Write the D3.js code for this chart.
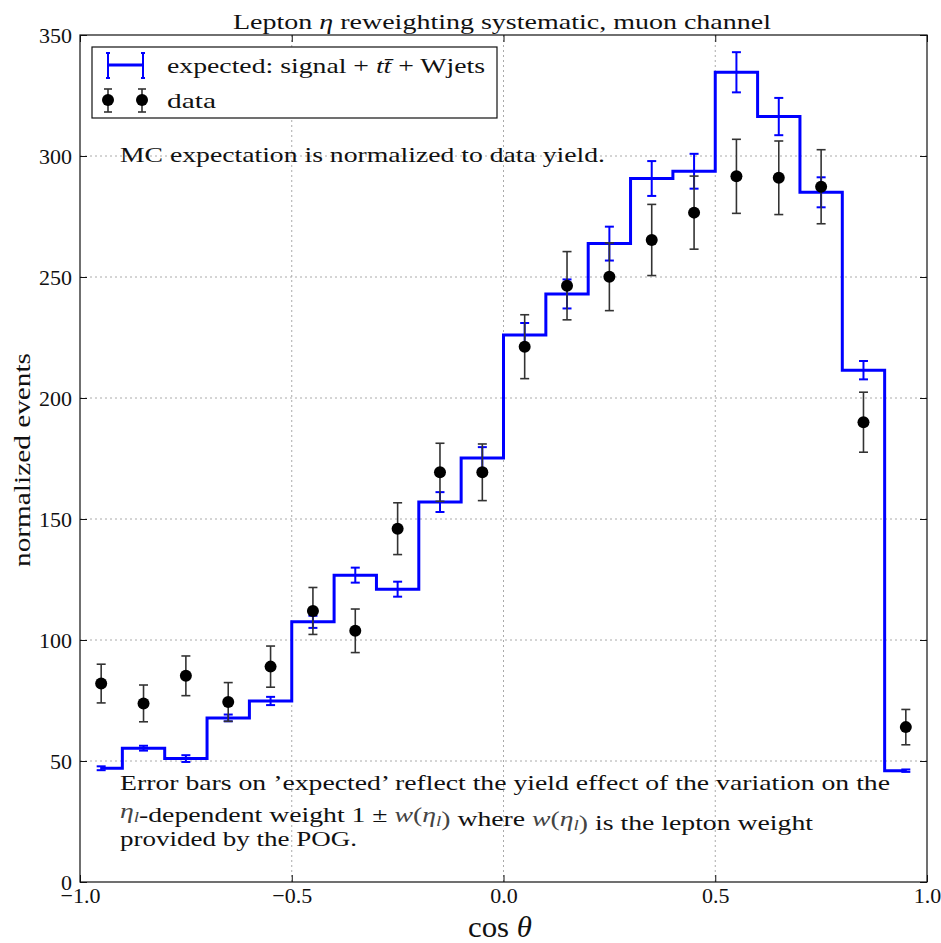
<!DOCTYPE html>
<html><head><meta charset="utf-8">
<script src="https://cdn.jsdelivr.net/npm/d3@7"></script>
<style>
body{margin:0;background:#fff}
text{font-family:"Liberation Serif","Times New Roman",serif;fill:#111}
</style>
</head><body>
<svg id="c" width="941" height="943"></svg>
<script>
// ---------- data ----------
const binCenters = [-0.95,-0.85,-0.75,-0.65,-0.55,-0.45,-0.35,-0.25,-0.15,-0.05,0.05,0.15,0.25,0.35,0.45,0.55,0.65,0.75,0.85,0.95];
const mcValues   = [47,55.3,51,67.8,74.8,107.5,126.8,121,157,175.2,226,243,263.8,290.7,293.7,334.6,316.3,285,211.5,46];
const mcErrors   = [0.8,1.0,1.4,1.4,1.7,2.5,3.1,3.1,4.1,4.5,5.0,6.0,7.0,7.2,7.2,8.3,7.7,6.2,3.8,0.5];
const dataValues = [82,73.8,85.2,74.4,89,112,103.8,146,169.3,169.3,221.2,246.4,250.1,265.3,276.6,291.6,291,287.3,190,64];
const dataErrors = [8,7.6,8.2,8,8.5,9.7,9,10.7,12,11.7,13.2,14.1,14,14.7,15.1,15.3,15.2,15.3,12.4,7.3];
const xTicks = [-1,-0.5,0,0.5,1];
const yTicks = [0,50,100,150,200,250,300,350];

// ---------- setup ----------
const svg = d3.select("#c");
svg.append("rect").attr("width",941).attr("height",943).attr("fill","#fff");
const L=80,R=927,T=35,B=882;
const x = d3.scaleLinear().domain([-1,1]).range([L,R]);
const y = d3.scaleLinear().domain([0,350]).range([B,T]);
const FS = 22;

// grid
const grid = svg.append("g").attr("stroke","#aaa").attr("stroke-width",1).attr("stroke-dasharray","2,3");
grid.selectAll(".gx").data(xTicks.slice(1,-1)).join("line")
  .attr("x1",d=>x(d)).attr("x2",d=>x(d)).attr("y1",T).attr("y2",B);
grid.selectAll(".gy").data(yTicks.slice(1,-1)).join("line")
  .attr("x1",L).attr("x2",R).attr("y1",d=>y(d)).attr("y2",d=>y(d));

// axes
const fmtX = d3.format(".1f");
function styleAxis(g, labels){
  g.select(".domain").remove();
  g.attr("font-family",null);
  g.selectAll(".tick line").attr("stroke","#111").attr("stroke-width",1);
  g.selectAll(".tick text").attr("font-size",FS).attr("font-family","Liberation Serif").attr("fill","#111");
  if(!labels) g.selectAll(".tick text").remove();
}
svg.append("g").attr("transform",`translate(0,${B})`)
  .call(d3.axisBottom(x).tickValues(xTicks).tickSize(-7).tickPadding(5).tickFormat(fmtX))
  .call(g=>styleAxis(g,true));
svg.append("g").attr("transform",`translate(0,${T})`)
  .call(d3.axisTop(x).tickValues(xTicks).tickSize(-7))
  .call(g=>styleAxis(g,false));
svg.append("g").attr("transform",`translate(${L},0)`)
  .call(d3.axisLeft(y).tickValues(yTicks).tickSize(-7).tickPadding(8).tickFormat(d3.format("d")))
  .call(g=>styleAxis(g,true));
svg.append("g").attr("transform",`translate(${R},0)`)
  .call(d3.axisRight(y).tickValues(yTicks).tickSize(-7))
  .call(g=>styleAxis(g,false));

// step line (expected)
const mcPts = binCenters.map((c,i)=>[c,mcValues[i]]);
svg.append("path").datum(mcPts)
  .attr("d", d3.line().x(d=>x(d[0])).y(d=>y(d[1])).curve(d3.curveStep))
  .attr("fill","none").attr("stroke","#0000ff").attr("stroke-width",3);

// expected error bars
const cap = 4.5;
const mcG = svg.append("g").attr("stroke","#0000ff").attr("stroke-width",2);
binCenters.forEach((c,i)=>{
  const cx=x(c), y1=y(mcValues[i]-mcErrors[i]), y2=y(mcValues[i]+mcErrors[i]);
  mcG.append("line").attr("x1",cx).attr("x2",cx).attr("y1",y1).attr("y2",y2);
  mcG.append("line").attr("x1",cx-cap).attr("x2",cx+cap).attr("y1",y1).attr("y2",y1);
  mcG.append("line").attr("x1",cx-cap).attr("x2",cx+cap).attr("y1",y2).attr("y2",y2);
});

// data error bars and points
const dG = svg.append("g").attr("stroke","#333").attr("stroke-width",1.6);
binCenters.forEach((c,i)=>{
  const cx=x(c), y1=y(dataValues[i]-dataErrors[i]), y2=y(dataValues[i]+dataErrors[i]);
  dG.append("line").attr("x1",cx).attr("x2",cx).attr("y1",y1).attr("y2",y2);
  dG.append("line").attr("x1",cx-cap).attr("x2",cx+cap).attr("y1",y1).attr("y2",y1);
  dG.append("line").attr("x1",cx-cap).attr("x2",cx+cap).attr("y1",y2).attr("y2",y2);
});
svg.append("g").selectAll("circle").data(binCenters).join("circle")
  .attr("cx",d=>x(d)).attr("cy",(d,i)=>y(dataValues[i])).attr("r",6).attr("fill","#000");

// frame
svg.append("rect").attr("x",L).attr("y",T).attr("width",R-L).attr("height",B-T)
  .attr("fill","none").attr("stroke","#111").attr("stroke-width",1.2);

// title
const title = svg.append("text").attr("x",233).attr("y",29).attr("font-size",FS)
  .attr("textLength",538).attr("lengthAdjust","spacingAndGlyphs");
title.append("tspan").text("Lepton ");
title.append("tspan").attr("font-style","italic").text("η");
title.append("tspan").text(" reweighting systematic, muon channel");

// legend
svg.append("rect").attr("x",92).attr("y",47).attr("width",405).attr("height",71)
  .attr("fill","#fff").attr("stroke","#111").attr("stroke-width",1.2);
const lg = svg.append("g");
lg.append("line").attr("x1",108).attr("x2",143).attr("y1",65).attr("y2",65).attr("stroke","#0000ff").attr("stroke-width",3);
[108,143].forEach(px=>{
  lg.append("line").attr("x1",px).attr("x2",px).attr("y1",53).attr("y2",78).attr("stroke","#0000ff").attr("stroke-width",2);
  lg.append("line").attr("x1",px-2).attr("x2",px+2).attr("y1",53).attr("y2",53).attr("stroke","#0000ff").attr("stroke-width",2);
  lg.append("line").attr("x1",px-2).attr("x2",px+2).attr("y1",78).attr("y2",78).attr("stroke","#0000ff").attr("stroke-width",2);
});
[108,142].forEach(px=>{
  lg.append("line").attr("x1",px).attr("x2",px).attr("y1",89).attr("y2",112).attr("stroke","#333").attr("stroke-width",1.6);
  lg.append("line").attr("x1",px-4).attr("x2",px+4).attr("y1",89).attr("y2",89).attr("stroke","#333").attr("stroke-width",1.6);
  lg.append("line").attr("x1",px-4).attr("x2",px+4).attr("y1",112).attr("y2",112).attr("stroke","#333").attr("stroke-width",1.6);
  lg.append("circle").attr("cx",px).attr("cy",100).attr("r",6).attr("fill","#000");
});
const t1 = lg.append("text").attr("x",167).attr("y",73).attr("font-size",FS)
  .attr("textLength",318).attr("lengthAdjust","spacingAndGlyphs");
t1.append("tspan").text("expected: signal + ");
t1.append("tspan").attr("font-style","italic").text("tt\u0304");
t1.append("tspan").text(" + Wjets");
lg.append("text").attr("x",167).attr("y",108).attr("font-size",FS)
  .attr("textLength",49).attr("lengthAdjust","spacingAndGlyphs").text("data");

// annotations
svg.append("text").attr("x",120).attr("y",162).attr("font-size",FS)
  .attr("textLength",485).attr("lengthAdjust","spacingAndGlyphs")
  .text("MC expectation is normalized to data yield.");
svg.append("text").attr("x",120).attr("y",790).attr("font-size",FS)
  .attr("textLength",770).attr("lengthAdjust","spacingAndGlyphs")
  .text("Error bars on \u2019expected\u2019 reflect the yield effect of the variation on the");
const l2 = svg.append("text").attr("x",120).attr("y",818).attr("font-size",FS)
  .attr("textLength",693).attr("lengthAdjust","spacingAndGlyphs");
function etaL(t){
  t.append("tspan").attr("font-style","italic").attr("fill","#444").text("η");
  t.append("tspan").attr("font-style","italic").attr("fill","#444").attr("font-size",15).attr("dy",4).text("l");
  t.append("tspan").attr("dy",-4).text("");
}
etaL(l2);
l2.append("tspan").text("-dependent weight 1 ± ");
l2.append("tspan").attr("font-style","italic").attr("fill","#444").text("w");
l2.append("tspan").attr("fill","#444").text("(");
etaL(l2);
l2.append("tspan").attr("fill","#444").text(")");
l2.append("tspan").text(" where ");
l2.append("tspan").attr("font-style","italic").attr("fill","#444").text("w");
l2.append("tspan").attr("fill","#444").text("(");
etaL(l2);
l2.append("tspan").attr("fill","#444").text(")");
l2.append("tspan").text(" is the lepton weight");
svg.append("text").attr("x",120).attr("y",846).attr("font-size",FS)
  .attr("textLength",237).attr("lengthAdjust","spacingAndGlyphs")
  .text("provided by the POG.");

// axis labels
const xl = svg.append("text").attr("x",468).attr("y",937).attr("font-size",29)
  .attr("textLength",64).attr("lengthAdjust","spacingAndGlyphs");
xl.append("tspan").text("cos ");
xl.append("tspan").attr("font-style","italic").text("θ");
svg.append("text").attr("transform","translate(30,460) rotate(-90)")
  .attr("text-anchor","middle").attr("font-size",24)
  .attr("textLength",214).attr("lengthAdjust","spacingAndGlyphs")
  .text("normalized events");
</script>
</body></html>
